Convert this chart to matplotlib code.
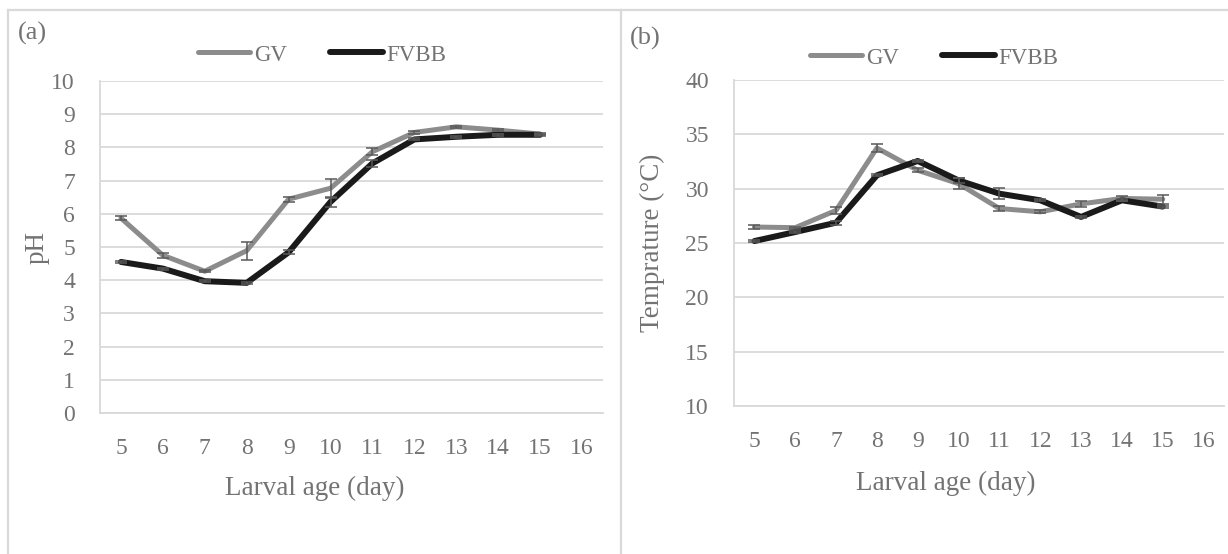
import matplotlib
matplotlib.use("Agg")
import matplotlib.pyplot as plt
from matplotlib.lines import Line2D

plt.rcParams['font.family'] = ['Liberation Serif', 'DejaVu Serif']

# data
days = [5, 6, 7, 8, 9, 10, 11, 12, 13, 14, 15, 16]
ph_gv = [5.87, 4.75, 4.27, 4.89, 6.44, 6.77, 7.87, 8.45, 8.62, 8.52, 8.40]
ph_fvbb = [4.55, 4.35, 3.97, 3.92, 4.84, 6.36, 7.52, 8.24, 8.32, 8.38, 8.38]
ph_gv_err = [0.05, 0.07, 0.03, 0.27, 0.07, 0.28, 0.10, 0.05, 0.03, 0.03, 0.03]
ph_fvbb_err = [0.03, 0.03, 0.03, 0.03, 0.06, 0.15, 0.10, 0.03, 0.03, 0.03, 0.03]

temp_gv = [26.47, 26.41, 28.0, 33.74, 31.69, 30.46, 28.17, 27.87, 28.6, 29.1, 29.03]
temp_fvbb = [25.18, 26.01, 26.87, 31.23, 32.55, 30.76, 29.54, 28.93, 27.4, 28.93, 28.35]
temp_gv_err = [0.15, 0.10, 0.30, 0.40, 0.20, 0.50, 0.20, 0.15, 0.30, 0.20, 0.40]
temp_fvbb_err = [0.10, 0.10, 0.20, 0.10, 0.10, 0.20, 0.53, 0.10, 0.10, 0.10, 0.10]

GRAY = '#8c8c8c'
BLACK = '#1a1a1a'
TXT = '#737373'
GRID = '#d9d9d9'
FS = 17        # tick labels
FS_T = 19.5    # axis titles
FS_L = 16.5    # legend

W, H = 1228, 554
fig = plt.figure(figsize=(W / 100, H / 100), dpi=100)

# panel frames
fig.add_artist(Line2D([8 / W, 1], [1 - 10 / H, 1 - 10 / H], color=GRID, lw=1.6))
fig.add_artist(Line2D([8 / W, 8 / W], [0, 1 - 10 / H], color=GRID, lw=1.6))
fig.add_artist(Line2D([621 / W, 621 / W], [0, 1 - 10 / H], color=GRID, lw=1.6))


def panel(rect, gv, fvbb, gv_err, fvbb_err, ylim, yticks, ylabel, ylab_x, xlab_x, xlab_y,
          tag, tag_x, tag_y, leg_x, leg_y):
    ax = fig.add_axes(rect)
    xs = list(range(len(gv)))
    ax.plot(xs, gv, color=GRAY, lw=3.6, solid_capstyle='round', solid_joinstyle='round', zorder=2, label='GV')
    ax.plot(xs, fvbb, color=BLACK, lw=4.3, solid_capstyle='round', solid_joinstyle='round', zorder=2, label='FVBB')
    ax.errorbar(xs, gv, yerr=gv_err, fmt='none', ecolor='#595959', elinewidth=1.1, capsize=4.5, capthick=1.1, zorder=3)
    ax.errorbar(xs, fvbb, yerr=fvbb_err, fmt='none', ecolor='#595959', elinewidth=1.1, capsize=4.5, capthick=1.1, zorder=3)

    ax.set_xlim(-0.5, len(days) - 0.5)
    ax.set_xticks(range(len(days)))
    ax.set_xticklabels([str(d) for d in days])
    ax.set_ylim(*ylim)
    ax.set_yticks(yticks)
    ax.yaxis.grid(True, color=GRID, lw=1.3)
    ax.set_axisbelow(True)
    for s in ['top', 'right']:
        ax.spines[s].set_visible(False)
    for s in ['left', 'bottom']:
        ax.spines[s].set_color(GRID)
        ax.spines[s].set_linewidth(1.3)
    ax.tick_params(axis='both', length=0, labelsize=FS, labelcolor=TXT)
    ax.tick_params(axis='y', pad=18)
    ax.tick_params(axis='x', pad=18)
    ax.set_ylabel(ylabel, fontsize=FS_T, color=TXT)
    ax.yaxis.set_label_coords(ylab_x, 0.5)
    ax.set_xlabel('Larval age (day)', fontsize=FS_T, color=TXT)
    ax.xaxis.set_label_coords(xlab_x, xlab_y)

    fig.text(tag_x / W, 1 - tag_y / H, tag, fontsize=19, color=TXT, ha='left', va='center')
    leg = ax.legend(loc='center', bbox_to_anchor=(leg_x / W, 1 - leg_y / H), bbox_transform=fig.transFigure,
                    ncol=2, frameon=False, fontsize=FS_L, handlelength=2.3, handletextpad=0.15,
                    columnspacing=1.9, borderaxespad=0)
    for t in leg.get_texts():
        t.set_color(TXT)
    return ax


panel([100 / W, (H - 413) / H, 503 / W, 332 / H], ph_gv, ph_fvbb, ph_gv_err, ph_fvbb_err,
      (0, 10), range(0, 11), 'pH', -0.1, 0.427, -0.19, '(a)', 18, 33, 322, 55)
panel([734 / W, (H - 406) / H, 490 / W, 326 / H], temp_gv, temp_fvbb, temp_gv_err, temp_fvbb_err,
      (10, 40), range(10, 41, 5), 'Temprature (°C)', -0.14, 0.433, -0.2, '(b)', 630, 38, 934, 58)

fig.savefig('out.png', dpi=100)
